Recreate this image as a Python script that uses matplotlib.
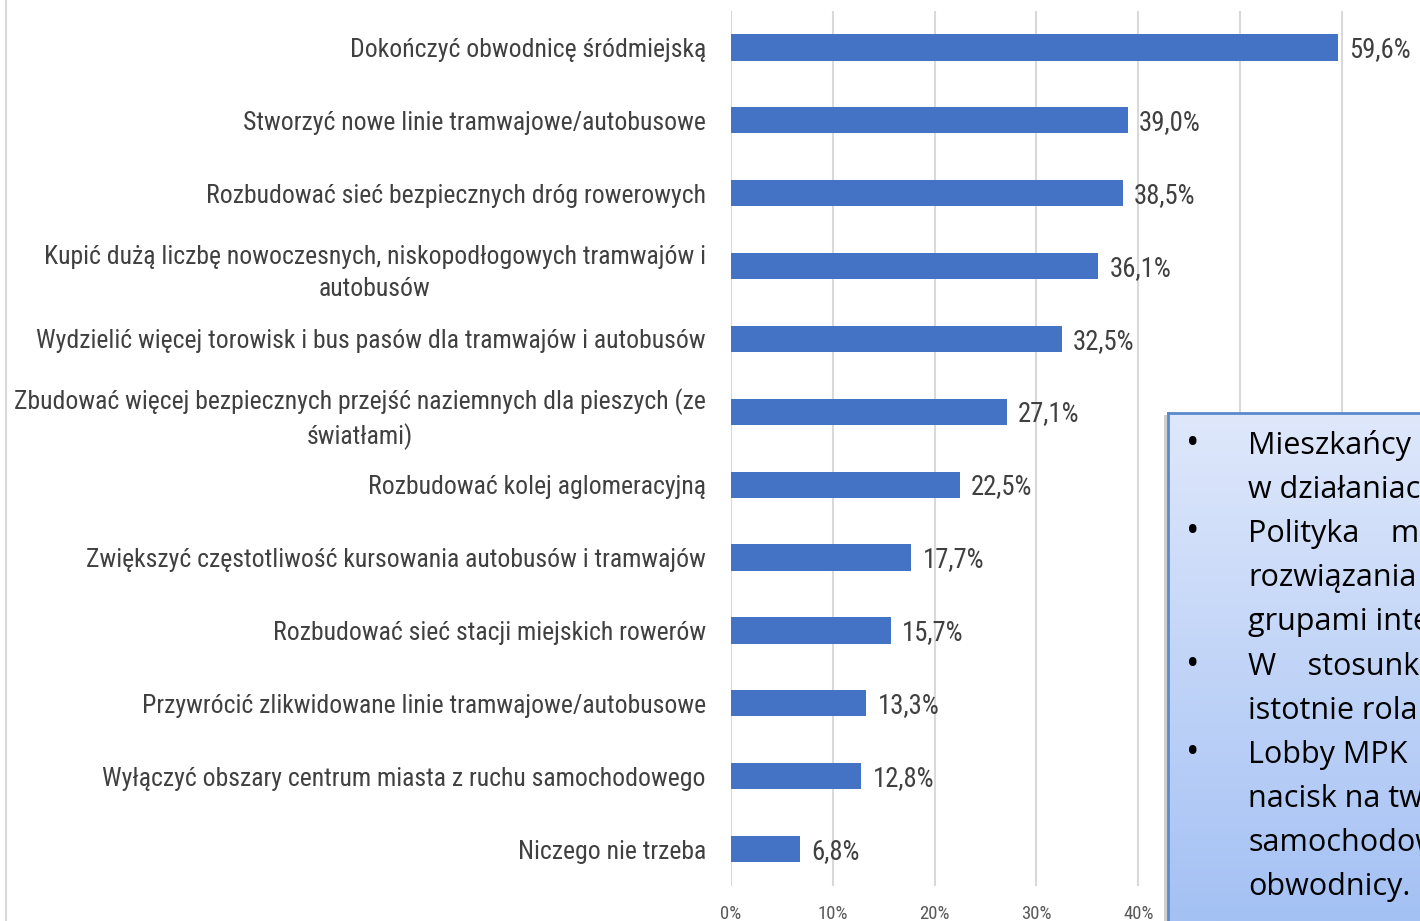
import matplotlib.pyplot as plt
import numpy as np

categories = [
    "Dokończyć obwodnicę śródmiejską",
    "Stworzyć nowe linie tramwajowe/autobusowe",
    "Rozbudować sieć bezpiecznych dróg rowerowych",
    "Kupić dużą liczbę nowoczesnych, niskopodłogowych tramwajów i\nautobusów",
    "Wydzielić więcej torowisk i bus pasów dla tramwajów i autobusów",
    "Zbudować więcej bezpiecznych przejść naziemnych dla pieszych (ze\nświatłami)",
    "Rozbudować kolej aglomeracyjną",
    "Zwiększyć częstotliwość kursowania autobusów i tramwajów",
    "Rozbudować sieć stacji miejskich rowerów",
    "Przywrócić zlikwidowane linie tramwajowe/autobusowe",
    "Wyłączyć obszary centrum miasta z ruchu samochodowego",
    "Niczego nie trzeba",
]
values = [59.6, 39.0, 38.5, 36.1, 32.5, 27.1, 22.5, 17.7, 15.7, 13.3, 12.8, 6.8]
xticks = [0, 10, 20, 30, 40, 50, 60]

# text box on the right, cut off by the slide edge
box_lines = [
    ("•", "Mieszkańcy"),
    ("", "w działaniach"),
    ("•", "Polityka    miejska"),
    ("", "rozwiązania"),
    ("", "grupami interesu"),
    ("•", "W    stosunku"),
    ("", "istotnie rola"),
    ("•", "Lobby MPK"),
    ("", "nacisk na tworzenie"),
    ("", "samochodowego"),
    ("", "obwodnicy."),
]

W, H = 1420, 921
fig = plt.figure(figsize=(W / 100, H / 100), dpi=100)
cond = ["Roboto Condensed", "DejaVu Sans"]
box_font = ["Open Sans", "DejaVu Sans"]

# chart area: 0% at x=731, 10% per ~101.8 px
x0 = 731
px10 = 101.8
xmax = (W - x0) / px10 * 10
top, bottom = 11, 885.5
ax = fig.add_axes([x0 / W, 1 - bottom / H, (W - x0) / W, (bottom - top) / H])

y = np.arange(len(categories))
ax.barh(y, values, height=0.36, color="#4472c4", zorder=3)
ax.set_ylim(len(categories) - 0.5, -0.5)
ax.set_xlim(0, xmax)

for i, v in enumerate(values):
    ax.text(v + 1.1, i + 0.03, f"{v:.1f}%".replace(".", ","), va="center", ha="left",
            fontsize=19.3, color="#404040", family=cond)

ax.set_xticks(xticks)
ax.set_xticklabels([f"{t}%" for t in xticks], fontsize=13.5, color="#595959",
                   family=cond)
ax.tick_params(axis="x", length=0, pad=14)
ax.set_yticks(y)
ax.set_yticklabels(categories, fontsize=18.5, color="#404040", family=cond,
                   multialignment="center", linespacing=1.42)
ax.tick_params(axis="y", length=0, pad=18)
ax.grid(axis="x", color="#d9d9d9", linewidth=1.5, zorder=0)
for s in ax.spines.values():
    s.set_visible(False)

# left border
fig.add_artist(plt.Line2D([5.5 / W, 5.5 / W], [0, 1], color="#d9d9d9", linewidth=1.5))

# text box with gradient
bx, by = 1168, 413
shadow = fig.add_axes([(bx - 4) / W, 0, (W - bx + 4) / W, (H - by - 2) / H])
shadow.set_facecolor("#cfcfcf")
shadow.set_xticks([])
shadow.set_yticks([])
for s in shadow.spines.values():
    s.set_visible(False)
bax = fig.add_axes([bx / W, 0, (W - bx) / W, (H - by) / H])
grad = np.linspace(0, 1, 256).reshape(-1, 1)
c_top = np.array([0xdf, 0xe8, 0xfb]) / 255
c_bot = np.array([0xa4, 0xc1, 0xf4]) / 255
img = c_top + grad[..., None] * (c_bot - c_top)
bax.imshow(img, aspect="auto", extent=[0, 1, 0, 1])
bax.set_xlim(0, 1)
bax.set_ylim(0, 1)
bax.set_xticks([])
bax.set_yticks([])
for name, s in bax.spines.items():
    if name in ("left", "top"):
        s.set_color("#5a89cc")
        s.set_linewidth(2)
    else:
        s.set_visible(False)

base0 = 454
step = 44.1
for k, (b, t) in enumerate(box_lines):
    yy = 1 - (base0 + k * step) / H
    if b:
        fig.text(1193 / W, yy, b, ha="center", va="baseline", fontsize=26,
                 color="#000000", family=box_font)
    fig.text(1248 / W, yy, t, ha="left", va="baseline", fontsize=22,
             color="#000000", family=box_font)

fig.savefig("out.png", dpi=100)
